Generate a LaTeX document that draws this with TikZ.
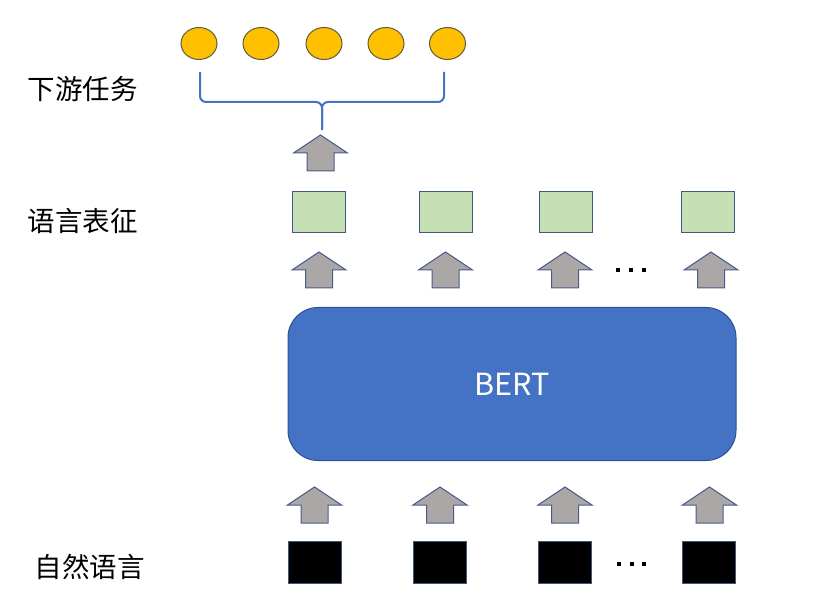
\documentclass[tikz,border=0pt]{standalone}
\usepackage{fontspec}
\setmainfont{Noto Sans CJK SC}
\usepackage{tikz}
\usetikzlibrary{shapes.geometric}

\definecolor{taskgold}{HTML}{FFC000}
\definecolor{taskedge}{HTML}{5E5C3C}
\definecolor{reprgreen}{HTML}{C5E0B4}
\definecolor{boxedge}{HTML}{41597F}
\definecolor{arrowgrey}{HTML}{ABA7A7}
\definecolor{arrowedge}{HTML}{4A5C8C}
\definecolor{bertblue}{HTML}{4472C4}
\definecolor{bertedge}{HTML}{2F528F}

\begin{document}
\begin{tikzpicture}[x=1pt,y=-1pt,line width=1pt]
\tikzstyle{every node}=[inner sep=0pt]
\tikzset{task/.style={ellipse,fill=taskgold,draw=taskedge,minimum width=36pt,minimum height=32pt},
         repr/.style={rectangle,fill=reprgreen,draw=boxedge,minimum width=53pt,minimum height=41pt},
         word/.style={rectangle,fill=black,draw=boxedge,minimum width=53pt,minimum height=42pt},
         bert/.style={rectangle,rounded corners=30pt,fill=bertblue,draw=bertedge,minimum width=448pt,minimum height=153pt,
                      text=white,font=\fontsize{30.5pt}{36pt}\selectfont},
         labeltext/.style={anchor=west,font=\fontsize{27.5pt}{32pt}\selectfont},
         ellipsisdot/.style={rectangle,fill=black,minimum size=3.5pt},
         bracestyle/.style={draw=bertblue,line width=2pt,rounded corners=6pt},
         uparrow/.pic={\draw[fill=arrowgrey,draw=arrowedge,line join=miter]
                       (-13.5,0) -- (-13.5,-18) -- (-27,-18) -- (0,-36) -- (27,-18) -- (13.5,-18) -- (13.5,0) -- cycle;}}

\useasboundingbox (0,0) rectangle (822,609);

        % downstream tasks
        \node[task]                (t1) at (199,43.5)  {};
        \node[task]                (t2) at (261,43.5)  {};
        \node[task]                (t3) at (324,43.5)  {};
        \node[task]                (t4) at (386,43.5)  {};
        \node[task]                (t5) at (447.5,43.5) {};

        \coordinate (bl) at (200,72);
        \coordinate (br) at (444,72);
        \coordinate (bm) at (322,102);
        \coordinate (bt) at (322,130);
        \draw[bracestyle] (bl) |- (bm) -- (bt);
        \draw[bracestyle] (br) |- (bm) -- (bt);

        \pic (up0) at (320.5,171) {uparrow};

        % representations
        \node[repr]                (r1) at (318.5,212.5) {};
        \node[repr]                (r2) at (445.5,212.5) {};
        \node[repr]                (r3) at (565.5,212.5) {};
        \node[repr]                (r4) at (708,212.5)   {};

        \pic (up1) at (319,288) {uparrow};
        \pic (up2) at (445.5,288) {uparrow};
        \pic (up3) at (565,288) {uparrow};
        \pic (up4) at (711,288) {uparrow};

        \node[ellipsisdot]         (d1) at (618,270) {};
        \node[ellipsisdot]         (d2) at (631,270) {};
        \node[ellipsisdot]         (d3) at (644,270) {};

        % encoder
        \node[bert]                (bert) at (512,384) {BERT};

        \pic (in1) at (314.5,523) {uparrow};
        \pic (in2) at (440,523) {uparrow};
        \pic (in3) at (565,523) {uparrow};
        \pic (in4) at (709.5,523) {uparrow};

        % natural language input
        \node[word]                (w1) at (314.5,562) {};
        \node[word]                (w2) at (439.5,562) {};
        \node[word]                (w3) at (565,562)   {};
        \node[word]                (w4) at (709,562)   {};

        \node[ellipsisdot]         (e1) at (619,564) {};
        \node[ellipsisdot]         (e2) at (632,564) {};
        \node[ellipsisdot]         (e3) at (644,564) {};

        % row labels
        \node[labeltext]           (ltask) at (27,89)  {下游任务};
        \node[labeltext]           (lrepr) at (27,221) {语言表征};
        \node[labeltext]           (lword) at (34,567) {自然语言};

\end{tikzpicture}
\end{document}
